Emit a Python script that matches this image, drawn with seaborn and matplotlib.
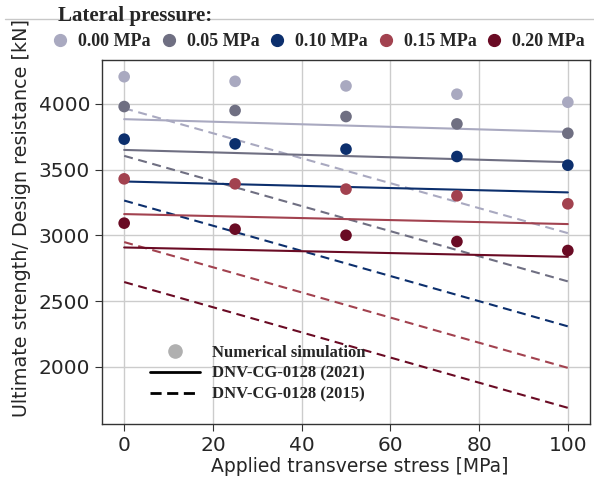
import numpy as np
import pandas as pd
import matplotlib
matplotlib.use('Agg')
import matplotlib.pyplot as plt
from matplotlib.lines import Line2D
import seaborn as sns

# lateral pressure cases
pressures = ['0.00 MPa', '0.05 MPa', '0.10 MPa', '0.15 MPa', '0.20 MPa']
colors = ['#a9a9c0', '#6f6f82', '#0c2f6d', '#a2424f', '#6a0b24']

# numerical simulation points
x_sim = [0, 25, 50, 75, 100]
sim_values = [
    [4207, 4172, 4137, 4074, 4013],
    [3980, 3950, 3904, 3848, 3777],
    [3732, 3696, 3656, 3600, 3534],
    [3430, 3392, 3352, 3301, 3240],
    [3093, 3047, 3001, 2953, 2885],
]

# design resistance, DNV-CG-0128 (end points)
x_dnv = [0, 100]
dnv_2021 = [
    [3884, 3787],
    [3650, 3557],
    [3410, 3327],
    [3162, 3086],
    [2908, 2837],
]
dnv_2015 = [
    [3967, 3017],
    [3605, 2650],
    [3265, 2308],
    [2949, 1992],
    [2645, 1688],
]

rows = []
for p, vals in zip(pressures, sim_values):
    for x, v in zip(x_sim, vals):
        rows.append({'stress': x, 'value': v, 'pressure': p})
sim_df = pd.DataFrame(rows)

rows = []
for p, a, b in zip(pressures, dnv_2021, dnv_2015):
    for x, v in zip(x_dnv, a):
        rows.append({'stress': x, 'value': v, 'pressure': p, 'rule': '2021'})
    for x, v in zip(x_dnv, b):
        rows.append({'stress': x, 'value': v, 'pressure': p, 'rule': '2015'})
dnv_df = pd.DataFrame(rows)

sns.set_style('ticks')
plt.rcParams['font.family'] = ['DejaVu Sans']

fig = plt.figure(figsize=(5.94, 4.79), dpi=100)
ax = fig.add_axes([0.1717, 0.1148, 0.9933 - 0.1717, 0.8747 - 0.1148])

ax.grid(color='#cccccc', linewidth=1, zorder=0)
ax.set_axisbelow(True)

palette = dict(zip(pressures, colors))
sns.lineplot(data=dnv_df, x='stress', y='value', hue='pressure', style='rule',
             palette=palette, dashes={'2021': '', '2015': (4.3, 2.7)},
             style_order=['2021', '2015'], linewidth=1.5, legend=False, ax=ax, zorder=2)
sns.scatterplot(data=sim_df, x='stress', y='value', hue='pressure', palette=palette,
                s=70, edgecolor='none', legend=False, ax=ax, zorder=3)

ax.set_xlim(-5, 105)
ax.set_ylim(1565, 4334)
ax.set_xticks([0, 20, 40, 60, 80, 100])
ax.set_yticks([2000, 2500, 3000, 3500, 4000])
ax.tick_params(labelsize=14.5, length=5, color='#333333')
for s in ax.spines.values():
    s.set_color('#333333')
    s.set_linewidth(1)

ax.set_xlabel('Applied transverse stress [MPa]', fontsize=13.5)
ax.set_ylabel('Ultimate strength/ Design resistance [kN]', fontsize=13.8)
ax.xaxis.set_label_coords(0.529, -0.092)
ax.yaxis.set_label_coords(-0.145, 0.565)

serif = {'family': 'Liberation Serif', 'weight': 'bold', 'size': 13}
serif_small = {'family': 'Liberation Serif', 'weight': 'bold', 'size': 12}
serif_title = {'family': 'Liberation Serif', 'weight': 'bold', 'size': 15}

# method legend
h_method = [
    Line2D([], [], marker='o', color='#b0b0b0', linestyle='none', markersize=9.5),
    Line2D([], [], color='black', linewidth=2),
    Line2D([], [], color='black', linewidth=2, dashes=(4, 2)),
]
ax.legend(h_method, ['Numerical simulation', 'DNV-CG-0128 (2021)', 'DNV-CG-0128 (2015)'],
          loc='center left', bbox_to_anchor=(0.098, 0.138), frameon=False,
          prop=serif_small, handlelength=3.0, handletextpad=0.72, labelspacing=0.3,
          borderpad=0, borderaxespad=0)

# pressure legend
h_press = [Line2D([], [], marker='o', color=c, linestyle='none', markersize=8.5) for c in colors]
fig.legend(h_press, pressures, loc='center left', bbox_to_anchor=(53 / 594, 1 - 42 / 479),
           ncol=5, frameon=False, prop=serif, handlelength=0.8, handletextpad=0.59,
           columnspacing=0.6, borderpad=0, borderaxespad=0)
fig.text(58 / 594, 1 - 21 / 479, 'Lateral pressure:', fontdict=serif_title, va='baseline')
fig.add_artist(Line2D([5 / 594, 1], [1 - 19 / 479, 1 - 19 / 479], transform=fig.transFigure,
                      color='#c8c8c8', linewidth=1, zorder=0))

fig.savefig('out.png', dpi=100)
